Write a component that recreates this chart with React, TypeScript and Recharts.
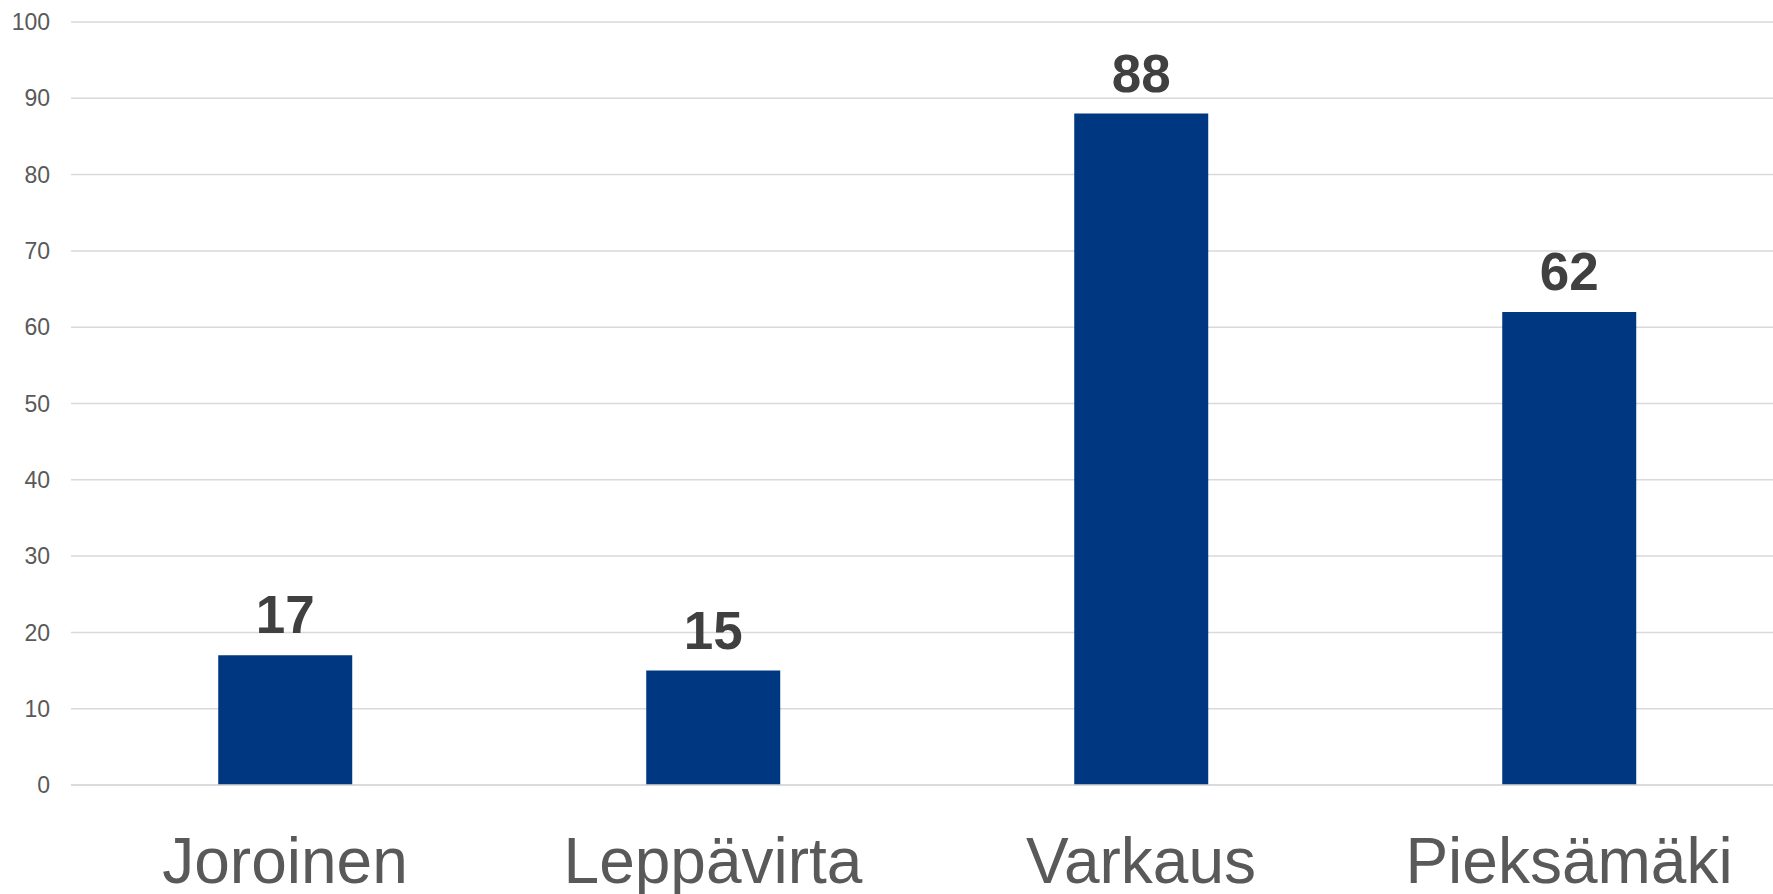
import { BarChart, Bar, XAxis, YAxis, CartesianGrid, LabelList } from "recharts";

const categories = ["Joroinen", "Leppävirta", "Varkaus", "Pieksämäki"];
const values = [17, 15, 88, 62];
const yTicks = [0, 10, 20, 30, 40, 50, 60, 70, 80, 90, 100];

const data = categories.map((name, i) => ({ name, value: values[i] }));

const FONT = "'Liberation Sans', Arial, sans-serif";

export default function App() {
  return (
    <div style={{ position: "fixed", left: 0, top: 0, background: "#fff" }}>
      <BarChart
        width={1773}
        height={894}
        data={data}
        margin={{ top: 22, right: -10, bottom: 0, left: 0 }}
        barCategoryGap="34.4%"
      >
        <CartesianGrid vertical={false} stroke="#d9d9d9" strokeWidth={1.5} />
        <XAxis
          dataKey="name"
          height={109}
          axisLine={{ stroke: "#d9d9d9", strokeWidth: 1.5 }}
          tickLine={false}
          tickSize={0}
          tickMargin={53}
          tick={{ fill: "#595959", fontSize: 64, fontFamily: FONT }}
        />
        <YAxis
          width={71}
          domain={[0, 100]}
          ticks={yTicks}
          axisLine={false}
          tickLine={false}
          tickSize={0}
          tickMargin={21}
          tick={{ fill: "#595959", fontSize: 23, fontFamily: FONT }}
        />
        <Bar dataKey="value" fill="#003781" isAnimationActive={false}>
          <LabelList
            dataKey="value"
            position="top"
            offset={22}
            style={{ fill: "#404040", fontSize: 53, fontWeight: "bold", fontFamily: FONT }}
          />
        </Bar>
      </BarChart>
    </div>
  );
}
